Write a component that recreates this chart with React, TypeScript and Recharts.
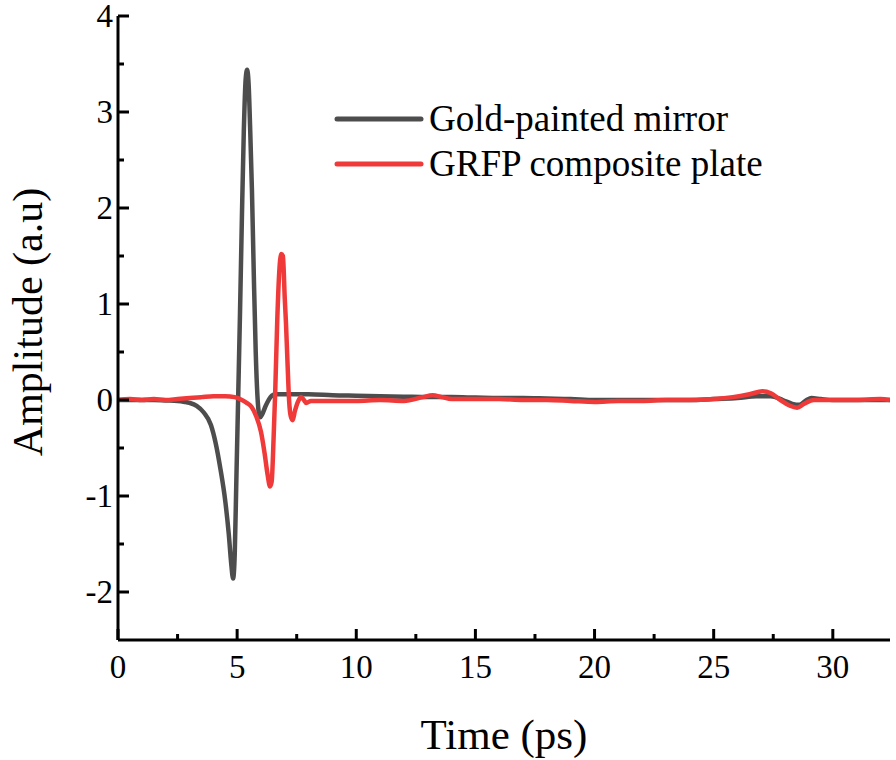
import { Legend, Line, LineChart, XAxis, YAxis } from "recharts";

const FONT = '"Liberation Serif", "Times New Roman", serif';

// time axis ticks (ps); majors get labels, minors are the half steps
const xMajorTicks = [0, 5, 10, 15, 20, 25, 30];
const xMinorTicks = [2.5, 7.5, 12.5, 17.5, 22.5, 27.5];
const yMajorTicks = [-2, -1, 0, 1, 2, 3, 4];
const yMinorTicks = [-1.5, -0.5, 0.5, 1.5, 2.5, 3.5];

const seriesNames = ["Gold-painted mirror", "GRFP composite plate"];

// Gold-painted mirror reference pulse
const mirrorTime = [
  0, 0.5, 1, 1.5, 2, 2.5, 2.8, 3.0, 3.3, 3.6, 3.9, 4.1, 4.3, 4.5, 4.65, 4.75, 4.83, 4.9, 4.97,
  5.05, 5.12, 5.2, 5.28, 5.36, 5.42, 5.48, 5.55, 5.62, 5.7, 5.78, 5.85, 5.92, 5.97, 6.05, 6.2,
  6.4, 6.6, 7.0, 7.5, 8, 9, 10, 11, 12, 13, 14, 15, 16, 17, 18, 19, 20, 21, 22, 23, 24, 25, 26,
  26.8, 27.4, 27.9, 28.3, 28.6, 28.9, 29.1, 29.5, 30, 31, 32, 32.4,
];
const mirrorAmp = [
  0, 0, 0, 0, -0.005, -0.01, -0.02, -0.03, -0.06, -0.13, -0.26, -0.45, -0.72, -1.05, -1.4, -1.7,
  -1.86, -1.6, -0.8, 0.1, 0.9, 1.9, 2.8, 3.35, 3.44, 3.3, 2.8, 2.2, 1.3, 0.5, 0.05, -0.15, -0.18,
  -0.15, -0.06, 0.03, 0.06, 0.06, 0.06, 0.06, 0.05, 0.045, 0.04, 0.035, 0.03, 0.03, 0.025, 0.02,
  0.02, 0.015, 0.01, 0, 0, 0, 0, 0, 0.01, 0.02, 0.04, 0.04, 0, -0.04, -0.05, 0, 0.02, 0.01, 0,
  0, 0, 0,
];

// GRFP composite plate pulse
const plateTime = [
  0, 0.5, 1, 1.5, 2, 2.5, 3.0, 3.5, 4.0, 4.5, 4.9, 5.2, 5.4, 5.6, 5.8, 6.0, 6.15, 6.28, 6.38,
  6.45, 6.53, 6.6, 6.68, 6.76, 6.85, 6.92, 7.0, 7.05, 7.12, 7.18, 7.25, 7.33, 7.42, 7.55, 7.68,
  7.8, 7.9, 8.1, 8.5, 9, 10, 11, 12, 12.8, 13.2, 13.6, 14, 15, 16, 17, 18, 19, 20, 21, 22, 23,
  24, 25, 25.8, 26.5, 27.05, 27.4, 27.8, 28.2, 28.5, 28.8, 29.2, 30, 31, 32, 32.4,
];
const plateAmp = [
  0, 0.01, 0, 0.01, 0, 0.01, 0.02, 0.03, 0.04, 0.04, 0.03, 0, -0.03, -0.07, -0.17, -0.33, -0.55,
  -0.78, -0.9, -0.85, -0.4, 0.1, 0.8, 1.3, 1.52, 1.5, 1.05, 0.8, 0.35, 0, -0.17, -0.21, -0.12,
  -0.02, 0.03, 0, -0.03, -0.01, -0.01, -0.01, -0.01, 0, -0.01, 0.03, 0.05, 0.03, 0.01, 0.01,
  0.01, 0, 0, -0.01, -0.02, -0.01, -0.01, 0, 0, 0.01, 0.03, 0.06, 0.09, 0.07, 0, -0.06, -0.08,
  -0.04, 0, 0, 0, 0.01, 0,
];

const mirrorData = mirrorTime.map((t, i) => ({ t, amp: mirrorAmp[i] }));
const plateData = plateTime.map((t, i) => ({ t, amp: plateAmp[i] }));

const xTicks = [...xMajorTicks, ...xMinorTicks].sort((a, b) => a - b);
const yTicks = [...yMajorTicks, ...yMinorTicks].sort((a, b) => a - b);

const AXIS_W = 3;

function tickLen(major: boolean) {
  return major ? 11 : 6;
}

function BottomTick({ x, y, payload }: any) {
  const major = xMajorTicks.includes(payload.value);
  return (
    <g>
      <line x1={x} x2={x} y1={y} y2={y - tickLen(major)} stroke="#000" strokeWidth={AXIS_W} />
      {major ? (
        <text x={x} y={y + 38} textAnchor="middle" fontFamily={FONT} fontSize={33} fill="#000">
          {payload.value}
        </text>
      ) : null}
    </g>
  );
}

function TopTick({ x, y, payload }: any) {
  const major = xMajorTicks.includes(payload.value);
  return <line x1={x} x2={x} y1={y} y2={y + tickLen(major)} stroke="#000" strokeWidth={AXIS_W} />;
}

function LeftTick({ x, y, payload }: any) {
  const major = yMajorTicks.includes(payload.value);
  return (
    <g>
      <line x1={x} x2={x + tickLen(major)} y1={y} y2={y} stroke="#000" strokeWidth={AXIS_W} />
      {major ? (
        <text x={x - 5} y={y + 11} textAnchor="end" fontFamily={FONT} fontSize={33} fill="#000">
          {payload.value}
        </text>
      ) : null}
    </g>
  );
}

function RightTick({ x, y, payload }: any) {
  const major = yMajorTicks.includes(payload.value);
  return <line x1={x} x2={x - tickLen(major)} y1={y} y2={y} stroke="#000" strokeWidth={AXIS_W} />;
}

function LegendBox({ payload }: any) {
  const items = [...(payload || [])].sort(
    (a: any, b: any) => seriesNames.indexOf(a.value) - seriesNames.indexOf(b.value),
  );
  return (
    <div style={{ fontFamily: FONT, fontSize: 37, color: "#000", lineHeight: "45px" }}>
      {items.map((entry: any) => (
        <div key={entry.value} style={{ display: "flex", alignItems: "center", whiteSpace: "nowrap" }}>
          <svg width={95} height={45} style={{ flex: "none" }}>
            <line x1={3} x2={87} y1={23} y2={23} stroke={entry.color} strokeWidth={5} strokeLinecap="round" />
          </svg>
          <span>{entry.value}</span>
        </div>
      ))}
    </div>
  );
}

const axisLine = { stroke: "#000", strokeWidth: AXIS_W };

export default function App() {
  return (
    <div style={{ position: "absolute", left: 0, top: 0, width: 896, height: 760, background: "#fff" }}>
      <LineChart width={896} height={760} margin={{ top: 16, right: 6, bottom: 80, left: 58 }}>
        <XAxis
          xAxisId="bottom"
          dataKey="t"
          type="number"
          domain={[0, 32.4]}
          ticks={xTicks}
          interval={0}
          tick={<BottomTick />}
          tickLine={false}
          tickSize={0}
          tickMargin={0}
          axisLine={axisLine}
          height={40}
          allowDataOverflow
          label={({ viewBox }: any) => (
            <text
              x={viewBox.x + viewBox.width / 2}
              y={749}
              textAnchor="middle"
              fontFamily={FONT}
              fontSize={43}
              fill="#000"
            >
              Time (ps)
            </text>
          )}
        />
        <XAxis
          xAxisId="top"
          orientation="top"
          dataKey="t"
          type="number"
          domain={[0, 32.4]}
          ticks={xTicks}
          interval={0}
          tick={<TopTick />}
          tickLine={false}
          tickSize={0}
          tickMargin={0}
          axisLine={axisLine}
          height={0}
          allowDataOverflow
        />
        <YAxis
          yAxisId="left"
          dataKey="amp"
          type="number"
          domain={[-2.5, 4]}
          ticks={yTicks}
          interval={0}
          tick={<LeftTick />}
          tickLine={false}
          tickSize={0}
          tickMargin={0}
          axisLine={axisLine}
          width={60}
          allowDataOverflow
          label={({ viewBox }: any) => (
            <text
              x={42}
              y={viewBox.y + viewBox.height / 2 - 6}
              transform={`rotate(-90, 42, ${viewBox.y + viewBox.height / 2 - 6})`}
              textAnchor="middle"
              fontFamily={FONT}
              fontSize={42}
              fill="#000"
            >
              Amplitude (a.u)
            </text>
          )}
        />
        <YAxis
          yAxisId="right"
          orientation="right"
          dataKey="amp"
          type="number"
          domain={[-2.5, 4]}
          ticks={yTicks}
          interval={0}
          tick={<RightTick />}
          tickLine={false}
          tickSize={0}
          tickMargin={0}
          axisLine={axisLine}
          width={0}
          allowDataOverflow
        />
        <Legend
          layout="horizontal"
          verticalAlign="middle"
          align="center"
          content={<LegendBox />}
          wrapperStyle={{ position: "absolute", left: 334, top: 96, width: "auto", height: "auto" }}
        />
        <Line
          xAxisId="bottom"
          yAxisId="left"
          data={mirrorData}
          dataKey="amp"
          name={seriesNames[0]}
          type="monotone"
          stroke="#4d4d4d"
          strokeWidth={4.5}
          dot={false}
          activeDot={false}
          isAnimationActive={false}
        />
        <Line
          xAxisId="bottom"
          yAxisId="left"
          data={plateData}
          dataKey="amp"
          name={seriesNames[1]}
          type="monotone"
          stroke="#f03a3a"
          strokeWidth={4.5}
          dot={false}
          activeDot={false}
          isAnimationActive={false}
        />
      </LineChart>
    </div>
  );
}
